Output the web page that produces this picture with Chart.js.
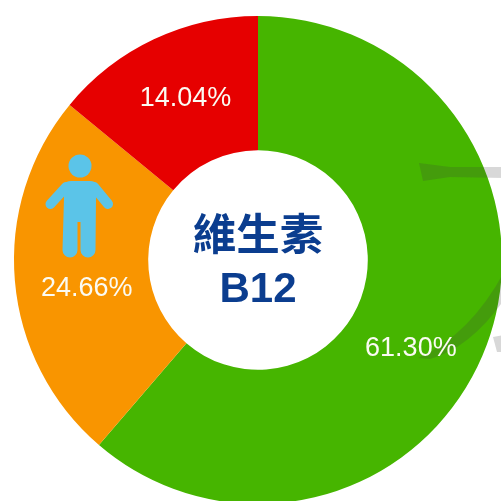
<!DOCTYPE html>
<html><head><meta charset="utf-8">
<style>html,body{margin:0;padding:0;background:#fff;overflow:hidden;width:501px;height:501px}canvas{display:block}</style>
<script src="https://cdn.jsdelivr.net/npm/chart.js@4/dist/chart.umd.min.js"></script>
</head><body><canvas id="c" width="504" height="504"></canvas>
<script>
const categories = ["Green", "Orange", "Red"];
const shares = [61.30, 24.66, 14.04];
const percentLabels = ["61.30%", "24.66%", "14.04%"];
const sliceColors = ["#46B500", "#F99500", "#E60000"];
const titleLines = ["維生素", "B12"];
const labelOffsets = [[-13, 27], [5, 13], [3, -1]];

const decoration = {
  id: "decoration",
  afterDatasetsDraw(chart) {
    const c = chart.ctx;
    const meta = chart.getDatasetMeta(0);
    c.save();
    // faint watermark strokes behind the picture
    c.fillStyle = "rgba(60,60,60,0.2)";
    c.beginPath();
    c.moveTo(419,163); c.lineTo(450,167); c.lineTo(504,167); c.lineTo(504,178);
    c.lineTo(450,177); c.lineTo(423,181); c.closePath(); c.fill();
    c.beginPath();
    c.moveTo(418,358); c.quadraticCurveTo(470,335,504,272); c.lineTo(504,300);
    c.quadraticCurveTo(470,348,430,359); c.closePath(); c.fill();
    c.beginPath();
    c.moveTo(493,337); c.lineTo(504,335); c.lineTo(504,352); c.lineTo(497,352); c.closePath(); c.fill();

    // person icon
    c.fillStyle = c.strokeStyle = "#5BC4E8";
    c.beginPath(); c.arc(80,166,11.5,0,Math.PI*2); c.fill();
    c.beginPath();
    c.moveTo(71,181); c.lineTo(90,181); c.quadraticCurveTo(95,181,98,185);
    c.lineTo(96,198); c.lineTo(95.5,250); c.arc(88,250,7.5,0,Math.PI); c.lineTo(80.5,222);
    c.lineTo(77.5,222); c.lineTo(77.5,250); c.arc(70,250,7.5,0,Math.PI); c.lineTo(64,198);
    c.lineTo(63,185); c.quadraticCurveTo(66,181,71,181); c.closePath(); c.fill();
    c.lineWidth = 10; c.lineCap = "round";
    c.beginPath(); c.moveTo(66,187); c.lineTo(50.5,204); c.stroke();
    c.beginPath(); c.moveTo(94,187); c.lineTo(108,204); c.stroke();

    // percentage labels
    c.textAlign = "center"; c.textBaseline = "middle";
    c.fillStyle = "#FBFBF3";
    c.font = '27px "Liberation Sans", Arial, sans-serif';
    meta.data.forEach((arc, i) => {
      const p = arc.tooltipPosition();
      c.fillText(percentLabels[i], p.x + labelOffsets[i][0], p.y + labelOffsets[i][1]);
    });

    // centre title
    const cx = meta.data[0].x, cy = meta.data[0].y;
    c.fillStyle = "#0B3D8F";
    c.font = 'bold 43.5px "Liberation Sans", "Noto Sans CJK TC", sans-serif';
    c.fillText(titleLines[0], cx, cy - 22);
    c.font = 'bold 42px "Liberation Sans", Arial, sans-serif';
    c.fillText(titleLines[1], cx, cy + 30);
    c.restore();
  }
};

new Chart(document.getElementById("c"), {
  type: "doughnut",
  data: { labels: categories, datasets: [{ data: shares, backgroundColor: sliceColors, borderWidth: 0 }] },
  options: {
    responsive: false,
    animation: false,
    cutout: "45%",
    layout: { padding: { left: 14, right: 2, top: 16, bottom: 0 } },
    plugins: { legend: { display: false }, tooltip: { enabled: false }, title: { display: false } }
  },
  plugins: [decoration]
});
</script></body></html>
